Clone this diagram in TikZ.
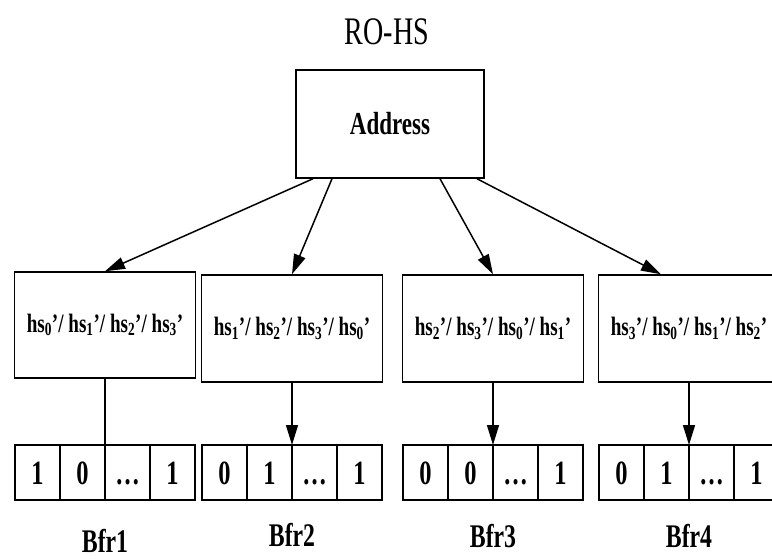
\documentclass[tikz,border=0pt]{standalone}
\usepackage{fontspec}
\setmainfont{Liberation Serif}[FakeStretch=0.72]
\usetikzlibrary{arrows.meta,positioning}

\begin{document}
\begin{tikzpicture}[
  x=1pt, y=-1pt,
  box/.style={draw, line width=1.5pt, inner sep=0pt, minimum width=181pt,
    minimum height=107pt, font=\fontsize{26.5}{26.5}\selectfont\bfseries},
  cell/.style={draw, line width=1.5pt, inner sep=0pt, outer sep=0pt,
    minimum width=45pt, minimum height=55pt, text height=23pt, text depth=0pt,
    font=\fontsize{34}{34}\selectfont\bfseries},
  arrow/.style={-{Triangle[length=20pt,width=12pt]}, line width=1.5pt},
  bfr/.style={font=\fontsize{33}{33}\selectfont\bfseries}
]
\useasboundingbox (0,0) rectangle (772,559);
\node[font=\fontsize{39}{39}\selectfont] (title) at (387,32) {RO-HS};
\node[box, minimum width=188pt, minimum height=108pt, font=\fontsize{32}{32}\selectfont\bfseries]
  (addr) at (390,124) {Address};
% hash boxes
\node[box, minimum height=106pt] (box1) at (105,325) {hs\textsubscript{0}'/ hs\textsubscript{1}'/ hs\textsubscript{2}'/ hs\textsubscript{3}'};
\node[box] (box2) at (292,328.5) {hs\textsubscript{1}'/ hs\textsubscript{2}'/ hs\textsubscript{3}'/ hs\textsubscript{0}'};
\node[box] (box3) at (493,328.5) {hs\textsubscript{2}'/ hs\textsubscript{3}'/ hs\textsubscript{0}'/ hs\textsubscript{1}'};
\node[box] (box4) at (689,328.5) {hs\textsubscript{3}'/ hs\textsubscript{0}'/ hs\textsubscript{1}'/ hs\textsubscript{2}'};
% bit arrays
\foreach \r/\xa/\bits in {1/37.5/{1,0,\dots,1}, 2/224.5/{0,1,\dots,1},
    3/425.5/{0,0,\dots,1}, 4/621.5/{0,1,\dots,1}}
  \foreach \v [count=\k] in \bits
    \node[cell] (b\r c\k) at (\xa+45*\k-45,472.5) {\v};
\node[bfr] (bfr1) at (105,541) {Bfr1};
\node[bfr] (bfr2) at (292,535) {Bfr2};
\node[bfr] (bfr3) at (493,536) {Bfr3};
\node[bfr] (bfr4) at (689,536) {Bfr4};
\draw[arrow] ([xshift=-77pt]addr.south) -- (box1.north);
\draw[arrow] ([xshift=-58pt]addr.south) -- (box2.north);
\draw[arrow] ([xshift=50pt]addr.south) -- (box3.north);
\draw[arrow] ([xshift=87pt]addr.south) -- ([xshift=-28pt]box4.north);
\draw[line width=1.5pt] (box1.south) -- (b1c2.north east);
\draw[arrow] (box2.south) -- (b2c2.north east);
\draw[arrow] (box3.south) -- (b3c2.north east);
\draw[arrow] (box4.south) -- (b4c2.north east);
\end{tikzpicture}
\end{document}
